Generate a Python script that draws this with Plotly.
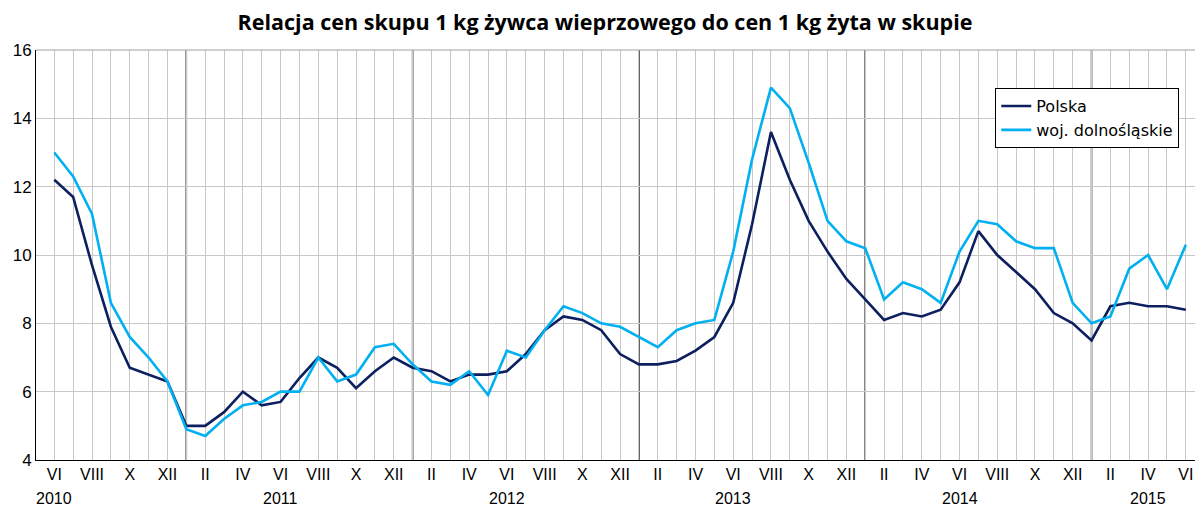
import plotly.graph_objects as go

months = ["VI", "VII", "VIII", "IX", "X", "XI", "XII",
          "I", "II", "III", "IV", "V", "VI", "VII", "VIII", "IX", "X", "XI", "XII",
          "I", "II", "III", "IV", "V", "VI", "VII", "VIII", "IX", "X", "XI", "XII",
          "I", "II", "III", "IV", "V", "VI", "VII", "VIII", "IX", "X", "XI", "XII",
          "I", "II", "III", "IV", "V", "VI", "VII", "VIII", "IX", "X", "XI", "XII",
          "I", "II", "III", "IV", "V", "VI"]
years = [2010] * 7 + [2011] * 12 + [2012] * 12 + [2013] * 12 + [2014] * 12 + [2015] * 6

polska = [12.2, 11.7, 9.7, 7.9, 6.7, 6.5, 6.3,
          5.0, 5.0, 5.4, 6.0, 5.6, 5.7, 6.4, 7.0, 6.7, 6.1, 6.6, 7.0,
          6.7, 6.6, 6.3, 6.5, 6.5, 6.6, 7.1, 7.8, 8.2, 8.1, 7.8, 7.1,
          6.8, 6.8, 6.9, 7.2, 7.6, 8.6, 10.9, 13.6, 12.2, 11.0, 10.1, 9.3,
          8.7, 8.1, 8.3, 8.2, 8.4, 9.2, 10.7, 10.0, 9.5, 9.0, 8.3, 8.0,
          7.5, 8.5, 8.6, 8.5, 8.5, 8.4]
dolnoslaskie = [13.0, 12.3, 11.2, 8.6, 7.6, 7.0, 6.3,
                4.9, 4.7, 5.2, 5.6, 5.7, 6.0, 6.0, 7.0, 6.3, 6.5, 7.3, 7.4,
                6.8, 6.3, 6.2, 6.6, 5.9, 7.2, 7.0, 7.8, 8.5, 8.3, 8.0, 7.9,
                7.6, 7.3, 7.8, 8.0, 8.1, 10.1, 12.8, 14.9, 14.3, 12.7, 11.0, 10.4,
                10.2, 8.7, 9.2, 9.0, 8.6, 10.1, 11.0, 10.9, 10.4, 10.2, 10.2, 8.6,
                8.0, 8.2, 9.6, 10.0, 9.0, 10.3]

title = "Relacja cen skupu 1 kg żywca wieprzowego do cen 1 kg żyta w skupie"
year_label_months = {2010: "VI", 2011: "VI", 2012: "VI", 2013: "VI", 2014: "VI", 2015: "IV"}

x = list(range(len(months)))
ticktext = [m if i % 2 == 0 else "" for i, m in enumerate(months)]

fig = go.Figure()
fig.add_trace(go.Scatter(x=x, y=polska, mode="lines", name="Polska",
                         line=dict(color="#0c1f5e", width=2.6)))
fig.add_trace(go.Scatter(x=x, y=dolnoslaskie, mode="lines", name="woj. dolnośląskie",
                         line=dict(color="#00b0f0", width=2.6)))

# January separators
for i in x:
    if months[i] == "I":
        fig.add_shape(type="line", xref="x", yref="paper", x0=i, x1=i, y0=0, y1=1,
                      line=dict(color="#1a1a1a", width=1.5), layer="between")

# year labels
for yr, mon in year_label_months.items():
    idx = next(i for i in x if years[i] == yr and months[i] == mon)
    fig.add_annotation(x=idx, y=0, xref="x", yref="paper", text=str(yr),
                       showarrow=False, yshift=-38, yanchor="middle",
                       font=dict(family="Liberation Sans, Arial", size=16, color="#000"))

fig.update_layout(
    width=1195, height=498,
    margin=dict(l=28, r=0, t=42, b=46),
    paper_bgcolor="white", plot_bgcolor="white",
    title=dict(text="<b>" + title + "</b>", x=0.4996, xanchor="center", y=0.9719, yanchor="middle",
               font=dict(family="Open Sans, sans-serif", size=21.5, color="#000")),
    showlegend=True,
    legend=dict(x=0.822, y=0.907, xanchor="left", yanchor="top",
                bordercolor="#000", borderwidth=1, bgcolor="white",
                font=dict(family="DejaVu Sans, Verdana", size=16, color="#000"),
                tracegroupgap=0, itemwidth=30),
    xaxis=dict(range=[-0.97, 60.91], tickmode="array", tickvals=x, ticktext=ticktext,
               showgrid=True, gridcolor="#c8c8c8", gridwidth=1,
               showline=True, linecolor="#000", linewidth=1, mirror=False,
               ticks="", zeroline=False,
               tickfont=dict(family="Liberation Sans, Arial", size=16, color="#000")),
    yaxis=dict(range=[4, 16], dtick=2, showgrid=True, gridcolor="#c8c8c8", gridwidth=1,
               showline=True, linecolor="#000", linewidth=1, ticks="", zeroline=False,
               tickfont=dict(family="Liberation Sans, Arial", size=17, color="#000")),
)
# top frame line
fig.add_shape(type="line", xref="paper", yref="paper", x0=0, x1=1, y0=1, y1=1,
              line=dict(color="#a0a0a0", width=1))

fig.write_html("out.html")
